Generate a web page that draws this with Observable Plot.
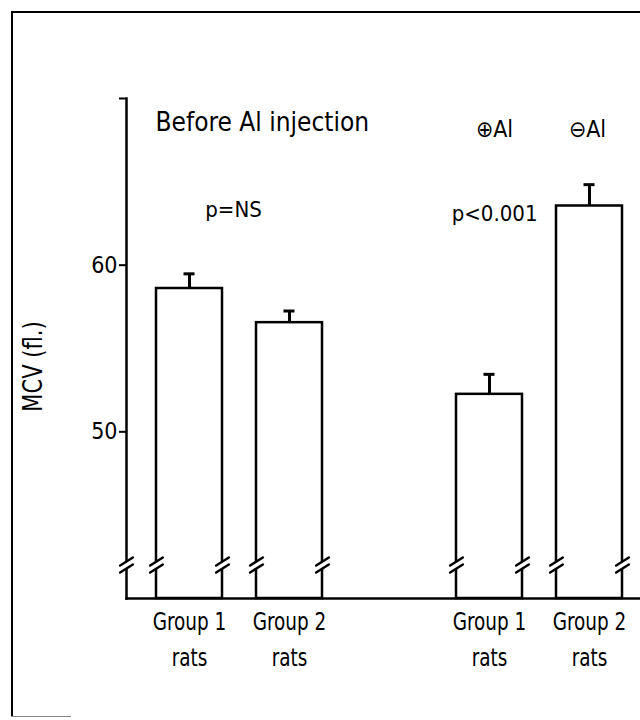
<!DOCTYPE html>
<html>
<head>
<meta charset="utf-8">
<script src="https://cdn.jsdelivr.net/npm/d3@7"></script>
<script src="https://cdn.jsdelivr.net/npm/@observablehq/plot@0.6"></script>
<style>
  html, body { margin: 0; padding: 0; background: #fff; }
  #wrap { position: relative; width: 640px; height: 720px; overflow: hidden; }
  #wrap svg { position: absolute; left: 0; top: 0; }
  #border { position: absolute; left: 11px; top: 11px; width: 640px; height: 706px;
            border-top: 2.5px solid #000; border-left: 2px solid #000; box-sizing: border-box; }
  #stub { position: absolute; left: 11px; top: 716px; width: 60px; height: 0; border-top: 1px solid #888; }
</style>
</head>
<body>
<div id="wrap"><div id="border"></div><div id="stub"></div></div>
<script>
// ---- data ----
const barKeys = ["before-g1", "before-g2", "after-g1", "after-g2"];
const xDomain = ["before-g1", "before-g2", "spacer", "after-g1", "after-g2"];
const mcv = [58.6, 56.55, 52.25, 63.55];
const sem = [0.88, 0.7, 1.2, 1.28];
const groupNames = ["Group 1", "Group 2", "Group 1", "Group 2"];
const groupSub = ["rats", "rats", "rats", "rats"];
const yTicks = [50, 60, 70];
const yTickLabels = ["50", "60", ""];
const yLabel = ["MCV (fl.)"];
const beforeTitle = ["Before Al injection"];
const pBefore = ["p=NS"];
const pAfter = ["p<0.001"];
const plusAl = ["\u2295Al"];
const minusAl = ["\u2296Al"];

const rows = barKeys.map((k, i) => ({key: k, mcv: mcv[i], sem: sem[i], name: groupNames[i], sub: groupSub[i]}));

const FONT = "'Liberation Sans Narrow', 'DejaVu Sans Condensed', 'Liberation Sans', sans-serif";
const W = 640, H = 720;
const xOpts = {type: "band", domain: xDomain, range: [126, 652], paddingInner: 0.34, paddingOuter: 0.3};
const bw = Plot.scale({x: xOpts}).bandwidth;

const slash = {draw(ctx, l) { ctx.moveTo(0, 0); ctx.lineTo(0, -l); }};
function breakMarks(data, opts) {
  const base = {anchor: "middle", shape: slash, rotate: 58, frameAnchor: "bottom", ...opts};
  return [
    Plot.vector(data, {...base, length: 11, dy: -33.5, stroke: "#fff", strokeWidth: 4.5}),
    Plot.vector(data, {...base, length: 15, dy: -37, stroke: "#000", strokeWidth: 2.5}),
    Plot.vector(data, {...base, length: 15, dy: -30, stroke: "#000", strokeWidth: 2.5})
  ];
}
const T = {fill: "#000", lineAnchor: "middle"};

const chart = Plot.plot({
  width: W, height: H,
  marginTop: 98, marginBottom: 122, marginLeft: 126, marginRight: 0,
  style: {fontFamily: FONT, background: "transparent", color: "#000"},
  x: {...xOpts, axis: null},
  y: {domain: [40, 70], axis: null},
  marks: [
    Plot.barY(rows, {x: "key", y1: 40, y2: "mcv", fill: "#fff", stroke: "#000", strokeWidth: 2.5}),
    Plot.ruleX(rows, {x: "key", y1: "mcv", y2: d => d.mcv + d.sem, stroke: "#000", strokeWidth: 3}),
    Plot.tickY(rows, {x: "key", y: d => d.mcv + d.sem, insetLeft: (bw - 11) / 2, insetRight: (bw - 11) / 2, stroke: "#000", strokeWidth: 3}),
    Plot.frame({anchor: "left", stroke: "#000", strokeWidth: 2.5}),
    Plot.frame({anchor: "bottom", stroke: "#000", strokeWidth: 2.5}),
    Plot.axisY(yTicks, {tickSize: 7, tickPadding: 2, tickFormat: d => yTickLabels[yTicks.indexOf(d)], fontSize: 23, label: null, strokeWidth: 2, fill: "#000"}),
    ...breakMarks(rows, {x: "key", dx: -bw / 2}),
    ...breakMarks(rows, {x: "key", dx: bw / 2}),
    ...breakMarks([0], {frameAnchor: "bottom-left"}),
    Plot.text(rows, {...T, x: "key", text: "name", frameAnchor: "bottom", dy: 23, fontSize: 25, className: "cond82"}),
    Plot.text(rows, {...T, x: "key", text: "sub", frameAnchor: "bottom", dy: 59, fontSize: 25, className: "cond82"}),
    Plot.text(yLabel, {...T, text: d => d, frameAnchor: "left", textAnchor: "middle", rotate: -90, dx: -93, dy: 18, fontSize: 26, className: "cond90"}),
    Plot.text(beforeTitle, {...T, x: () => "before-g1", text: d => d, frameAnchor: "top", dx: -bw / 2 - 1, dy: 24, textAnchor: "start", fontSize: 26, style: "letter-spacing:2.7px"}),
    Plot.text(pBefore, {...T, x: () => "before-g1", text: d => d, frameAnchor: "top", dx: 44, dy: 111, fontSize: 22}),
    Plot.text(pAfter, {...T, x: () => "after-g2", text: d => d, frameAnchor: "top", dx: -bw / 2 - 19, dy: 115, textAnchor: "end", fontSize: 22}),
    Plot.text(plusAl, {...T, x: () => "after-g1", text: d => d, frameAnchor: "top", dx: 5, dy: 31, fontSize: 23}),
    Plot.text(minusAl, {...T, x: () => "after-g2", text: d => d, frameAnchor: "top", dx: -2, dy: 31, fontSize: 23})
  ]
});
document.getElementById("wrap").prepend(chart);

// condense tall text horizontally to imitate the narrow typeface of the original
[["cond82", 0.82], ["cond90", 0.9]].forEach(([cls, k]) => {
  chart.querySelectorAll(`g.${cls} text`).forEach(t => {
    const len = t.getComputedTextLength();
    t.setAttribute("textLength", (len * k).toFixed(1));
    t.setAttribute("lengthAdjust", "spacingAndGlyphs");
  });
});
</script>
</body>
</html>
